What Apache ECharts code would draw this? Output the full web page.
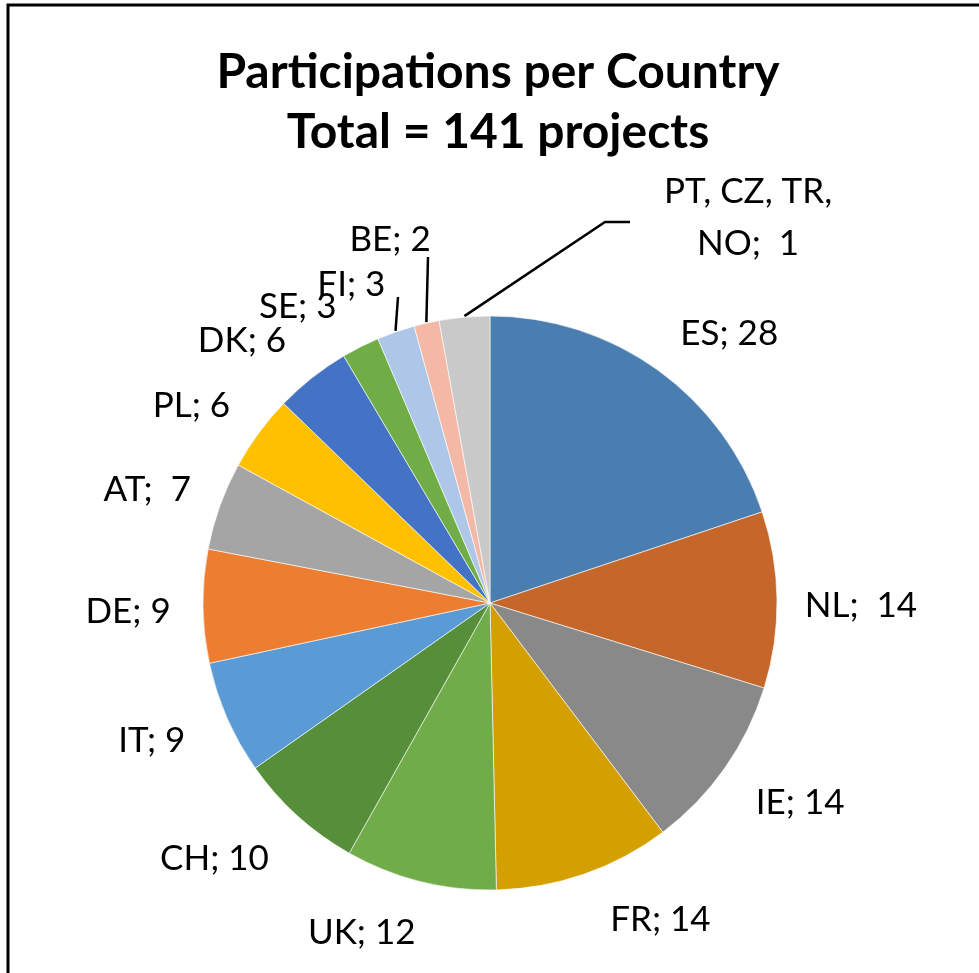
<!DOCTYPE html>
<html>
<head>
<meta charset="utf-8">
<script src="https://cdn.jsdelivr.net/npm/echarts@6/dist/echarts.min.js"></script>
<style>
html,body{margin:0;padding:0;background:#fff;}
#chart{width:979px;height:973px;}
</style>
</head>
<body>
<div id="chart"></div>
<script>
// ---- data ----
const countries = ['ES','NL','IE','FR','UK','CH','IT','DE','AT','PL','DK','SE','FI','BE','PT, CZ, TR,\nNO'];
const participations = [28,14,14,14,12,10,9,9,7,6,6,3,3,2,4];
const labelValues = [28,14,14,14,12,10,9,9,7,6,6,3,3,2,1];
const separators = ['; ',';  ','; ','; ','; ','; ','; ','; ',';  ','; ','; ','; ','; ','; ',';  '];
const titleLines = ['Participations per Country','Total = 141 projects'];

// ---- style ----
const colors = ['#4A7EB0','#C5672A','#898989','#D3A000','#71AC4B','#568E3A','#5B9BD5','#ED7D31',
                '#A5A5A5','#FFC000','#4472C4','#70AD47','#AEC6E8','#F4B9A6','#C9C9C9'];
const CX = 490, CY = 603, R = 287;
// label placement: angle offset (deg) from slice middle, distance from centre (px)
const labelDA   = [5.9, 1.1, -2.3, -9.1, 7.2, 5, 1.5, -0.7, -1.5, -2.9, -5.1, -6.2, -4.4, -2.6, 38.9];
const labelDist = [360, 371, 369, 360, 354, 376, 365, 362, 361, 358, 361, 353, 347, 377, 464];
const leader = {12: [[398,297]], 13: [[428,257]], 14: [[605,222],[630,222]]};

const total = participations.reduce((a,b)=>a+b,0);
const mids = [];
let acc = 0;
participations.forEach(v => { mids.push((acc + v/2) / total * 360); acc += v; });

const chart = echarts.init(document.getElementById('chart'));
const data = countries.map((c,i) => ({
  name: c, value: participations[i],
  itemStyle: {color: colors[i]},
  labelLine: {show: !!leader[i], lineStyle: {color: '#000', width: 2.5}}
}));

chart.setOption({
  animation: false,
  graphic: [
    {type:'polyline', shape:{points:[[8,973],[8,5],[979,5]]}, style:{stroke:'#000', lineWidth:3, fill:null}},
    {type:'text', x:498, y:73, style:{text:titleLines[0], font:'bold 48px Lato', fill:'#000', textAlign:'center', textVerticalAlign:'middle'}},
    {type:'text', x:498, y:133, style:{text:titleLines[1], font:'bold 48px Lato', fill:'#000', textAlign:'center', textVerticalAlign:'middle'}}
  ],
  series: [{
    type: 'pie',
    center: [CX, CY],
    radius: R,
    startAngle: 90,
    clockwise: true,
    avoidLabelOverlap: false,
    itemStyle: {borderColor: '#fff', borderWidth: 0.6},
    label: {
      show: true,
      position: 'outside',
      fontFamily: 'Lato',
      fontSize: 35,
      color: '#000',
      lineHeight: 52,
      formatter: p => p.name + separators[p.dataIndex] + labelValues[p.dataIndex]
    },
    labelLine: {show: false},
    labelLayout: function (p) {
      const i = p.dataIndex;
      const a = (mids[i] + labelDA[i]) * Math.PI / 180;
      const d = labelDist[i];
      const res = {
        x: CX + d * Math.sin(a), y: CY - d * Math.cos(a),
        align: 'center', verticalAlign: 'middle'
      };
      if (leader[i]) {
        const m = mids[i] * Math.PI / 180;
        const s = [CX + (R + 1) * Math.sin(m), CY - (R + 1) * Math.cos(m)];
        const pts = [s].concat(leader[i]);
        if (pts.length === 2) pts.push(pts[1]);
        res.labelLinePoints = pts;
      }
      return res;
    },
    data: data
  }]
});
</script>
</body>
</html>
